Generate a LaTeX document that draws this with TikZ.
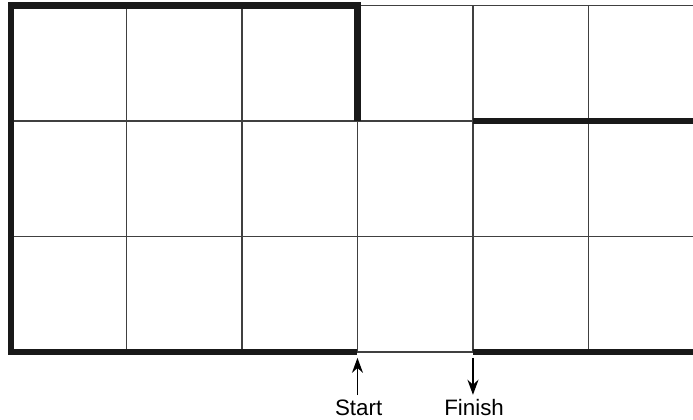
\documentclass[tikz,border=0pt]{standalone}
\usepackage{fontspec}
\setmainfont{Liberation Sans}
\usetikzlibrary{arrows.meta}
\tikzset{every node/.style={font=\fontsize{11}{13}\selectfont}}

\begin{document}
\begin{tikzpicture}[x=2cm, y=2cm, >={Stealth[length=2.6mm, width=1.9mm]}]
  % Fixed bounding box (reference proportions)
  \path[use as bounding box] (-0.095,-0.58) rectangle (5.905,3.048);

  \colorlet{gridcol}{black!75}
  \colorlet{wallcol}{black!90}

  % Thin grid of squares, cut at the right edge
  \begin{scope}
    \clip (-0.095,-0.58) rectangle (5.905,3.048);
    \draw[gridcol, line width=0.7pt, step=2cm] (0,0) grid (6,3);
  \end{scope}

  % Thick walls
  \draw[wallcol, line width=3.3pt, line join=miter] (3,2) -- (3,3) -- (0,3) -- (0,0) -- (3,0);
  \draw[wallcol, line width=3.3pt] (4,0) -- (5.95,0);
  \draw[wallcol, line width=3.3pt] (4,2) -- (5.95,2);

  % Entry and exit points
  \coordinate (S) at (3,-0.05);
  \coordinate (F) at (4,-0.05);
  \node[inner sep=2pt] (start) at (3.01,-0.48) {Start};
  \node[inner sep=2pt] (finish) at (4.01,-0.48) {Finish};

  \draw[->, line width=0.9pt] (start.north -| S) -- (S);
  \draw[->, line width=0.9pt] (F) -- (finish.north -| F);
\end{tikzpicture}
\end{document}
